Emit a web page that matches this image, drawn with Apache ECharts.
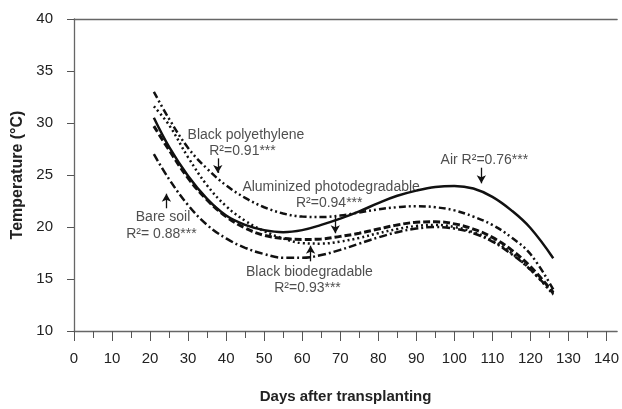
<!DOCTYPE html>
<html>
<head>
<meta charset="utf-8">
<script src="https://cdn.jsdelivr.net/npm/echarts@6/dist/echarts.min.js"></script>
<style>
  html, body { margin: 0; padding: 0; background: #fff; }
  #chart { width: 622px; height: 409px; }
</style>
</head>
<body>
<div id="chart"></div>
<script>
// days after transplanting
var days = [21, 25, 30, 35, 40, 45, 50, 55, 60, 65, 70, 75, 80, 85, 90, 95, 100, 105, 110, 115, 120, 126];

// temperatures (°C)
var air          = [30.5, 27.7, 24.9, 22.7, 21.1, 20.2, 19.7, 19.5, 19.7, 20.2, 20.8, 21.5, 22.3, 23.0, 23.5, 23.85, 23.95, 23.7, 22.9, 21.6, 19.9, 17.0];
var blackPoly    = [33.0, 30.4, 27.6, 25.6, 24.0, 22.8, 21.9, 21.3, 21.0, 20.95, 21.1, 21.4, 21.7, 21.9, 22.0, 21.9, 21.6, 21.0, 20.2, 19.0, 17.4, 14.0];
var dotted       = [31.6, 29.8, 26.7, 24.0, 22.0, 20.6, 19.6, 18.9, 18.45, 18.4, 18.6, 18.95, 19.4, 19.8, 20.1, 20.2, 20.0, 19.5, 18.7, 17.5, 15.9, 13.5];
var alumPhoto    = [29.7, 27.4, 24.7, 22.6, 21.0, 19.9, 19.2, 18.9, 18.8, 18.85, 19.1, 19.4, 19.8, 20.2, 20.45, 20.5, 20.3, 19.8, 19.0, 17.8, 16.2, 13.7];
var bareSoil     = [27.0, 24.6, 22.1, 20.2, 18.9, 18.0, 17.4, 17.05, 17.05, 17.3, 17.8, 18.4, 19.0, 19.5, 19.85, 20.0, 19.85, 19.4, 18.6, 17.4, 15.9, 13.6];

var xTicks = [0, 10, 20, 30, 40, 50, 60, 70, 80, 90, 100, 110, 120, 130, 140];
var xMinorTicks = [5, 15, 25, 35, 45, 55, 65, 75, 85, 95, 105, 115, 125, 135];

// annotations: [day, temp, text]
var notes = [
  [45.2, 28.8, 'Black polyethylene'],
  [44.3, 27.3, 'R²=0.91***'],
  [67.6, 23.8, 'Aluminized photodegradable'],
  [67.1, 22.3, 'R²=0.94***'],
  [107.9, 26.4, 'Air R²=0.76***'],
  [23.4, 20.9, 'Bare soil'],
  [23.0, 19.3, 'R²= 0.88***'],
  [61.9, 15.7, 'Black biodegradable'],
  [61.4, 14.1, 'R²=0.93***']
];
// arrows: [day, fromTemp, toTemp]
var arrows = [
  [37.8, 26.6, 25.2],
  [68.7, 21.0, 19.4],
  [107.1, 25.7, 24.2],
  [24.3, 21.8, 23.2],
  [62.2, 16.7, 18.2]
];

function pairs(ys) {
  return days.map(function (d, i) { return [d, ys[i]]; });
}

var font = '"Liberation Sans", Arial, sans-serif';

function curve(name, ys, type, width) {
  return {
    name: name,
    type: 'line',
    smooth: 0.4,
    symbol: 'none',
    data: pairs(ys),
    lineStyle: { color: '#111', width: width, type: type }
  };
}

var series = [
  curve('Air', air, 'solid', 2.5),
  curve('Black polyethylene', blackPoly, [7, 3, 2, 3, 2, 3], 2.5),
  curve('Dotted', dotted, [2, 3], 2.5),
  curve('Aluminized photodegradable', alumPhoto, [7, 3], 3),
  curve('Bare soil', bareSoil, [8, 3, 2, 3], 2.5)
];

series.push({
  type: 'scatter',
  symbolSize: 0,
  data: notes.map(function (n) { return [n[0], n[1], n[2]]; }),
  label: {
    show: true,
    position: 'inside',
    formatter: function (p) { return p.data[2]; },
    color: '#222',
    fontFamily: font,
    fontSize: 14
  },
  silent: true
});

series.push({
  type: 'line',
  data: [],
  markLine: {
    silent: true,
    symbol: ['none', 'arrow'],
    symbolSize: [7, 8],
    label: { show: false },
    lineStyle: { color: '#111', width: 1.3, type: 'solid' },
    data: arrows.map(function (a) { return [{ coord: [a[0], a[1]] }, { coord: [a[0], a[2]] }]; })
  }
});

var chart = echarts.init(document.getElementById('chart'));
chart.setOption({
  animation: false,
  grid: { left: 74, right: 0, top: 19, bottom: 72 },
  xAxis: [{
    type: 'value',
    min: 0,
    max: 142.8,
    interval: 10,
    splitLine: { show: false },
    axisLine: { lineStyle: { color: '#666', width: 1.3 } },
    axisTick: { customValues: xTicks, length: 10, lineStyle: { color: '#555' } },
    axisLabel: { customValues: xTicks, margin: 20, color: '#222', fontSize: 15, fontFamily: font },
    name: 'Days after transplanting',
    nameLocation: 'middle',
    nameGap: 58,
    nameTextStyle: { color: '#222', fontSize: 15, fontWeight: 'bold', fontFamily: font }
  }, {
    type: 'value',
    min: 0,
    max: 142.8,
    position: 'bottom',
    splitLine: { show: false },
    axisLine: { show: false },
    axisTick: { customValues: xMinorTicks, length: 7, lineStyle: { color: '#555' } },
    axisLabel: { show: false }
  }, {
    type: 'value',
    min: 0,
    max: 142.8,
    position: 'top',
    splitLine: { show: false },
    axisLine: { lineStyle: { color: '#666', width: 1.3 } },
    axisTick: { show: false },
    axisLabel: { show: false }
  }],
  yAxis: {
    type: 'value',
    min: 10,
    max: 40,
    interval: 5,
    splitLine: { show: false },
    axisLine: { show: true, lineStyle: { color: '#666', width: 1.3 } },
    axisTick: { show: true, length: 7, lineStyle: { color: '#555' } },
    axisLabel: { margin: 21, color: '#222', fontSize: 15, fontFamily: font },
    name: 'Temperature (°C)',
    nameLocation: 'middle',
    nameGap: 46,
    nameTextStyle: { color: '#222', fontSize: 16, fontWeight: 'bold', fontFamily: font }
  },
  series: series
});
</script>
</body>
</html>
